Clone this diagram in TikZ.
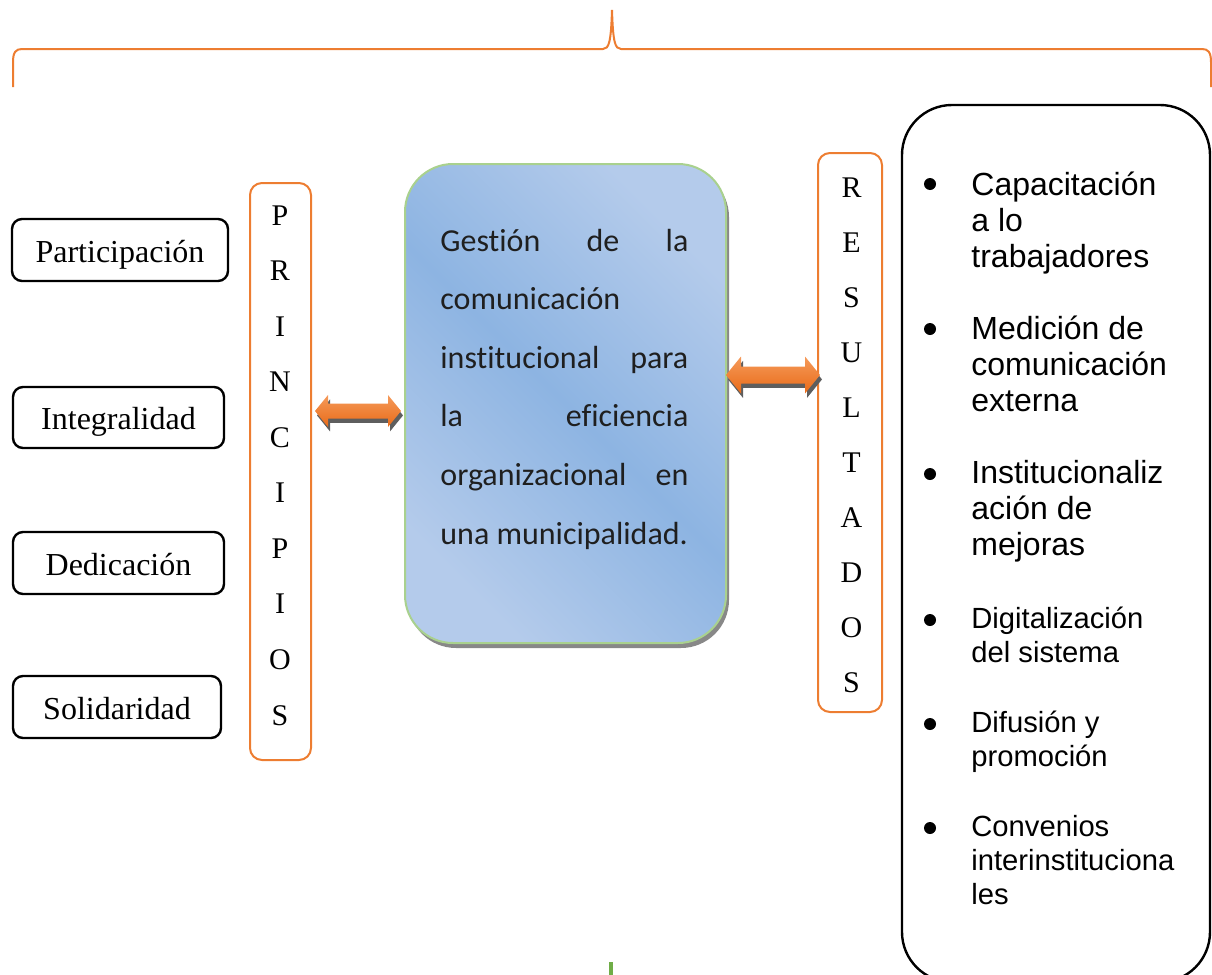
\documentclass[tikz,border=0pt]{standalone}
\usepackage{fontspec}
\setmainfont{Liberation Serif}
\newfontfamily\listfont{Liberation Sans}
\newfontfamily\panelfont[Ligatures=NoCommon]{Carlito}
\usetikzlibrary{calc,shadows}

\definecolor{braceorange}{HTML}{ED7D31}
\definecolor{panelgreen}{HTML}{A9D18E}
\definecolor{paneldark}{HTML}{8DB4E2}
\definecolor{panellight}{HTML}{B4CBEB}
\definecolor{arrowtop}{HTML}{F59A5A}
\definecolor{arrowbottom}{HTML}{E96B18}
\definecolor{arrowshadow}{HTML}{5E5E5E}
\definecolor{tickgreen}{HTML}{70AD47}

% diagonal bands of the central panel
\pgfdeclarehorizontalshading{panelshade}{100bp}{%
  color(0bp)=(panellight); color(25bp)=(panellight); color(50bp)=(paneldark);
  color(75bp)=(panellight); color(100bp)=(panellight)}

% double block arrow between two points: style, from, to,
% head length, head half-height, shaft half-height, x offset, y offset
\newcommand\blockarrow[8]{%
  \path[#1] let \p1=($(#2)+(#7,#8)$), \p2=($(#3)+(#7,#8)$) in
    (\x1,\y1) -- (\x1+#4,\y1+#5) -- (\x1+#4,\y1+#6) -- (\x2-#4,\y2+#6)
    -- (\x2-#4,\y2+#5) -- (\x2,\y2) -- (\x2-#4,\y2-#5) -- (\x2-#4,\y2-#6)
    -- (\x1+#4,\y1-#6) -- (\x1+#4,\y1-#5) -- cycle;}

\begin{document}
\begin{tikzpicture}[x=0.5pt,y=-0.5pt,
  every node/.style={inner sep=0pt},
  valuebox/.style={draw=black, line width=1.2pt, rounded corners=5pt,
    text height=13pt, text depth=1pt, font=\fontsize{16}{19}\selectfont},
  column/.style={draw=braceorange, line width=1pt, rounded corners=6pt},
  panel/.style={draw=panelgreen, line width=1pt, rounded corners=24pt,
    shade, shading=panelshade, shading angle=45,
    drop shadow={shadow xshift=1.5pt, shadow yshift=-2.5pt, fill=black!55, opacity=0.85}},
  bodyarrow/.style={top color=arrowtop, bottom color=arrowbottom},
  shadowarrow/.style={fill=arrowshadow},
  bigitem/.style={anchor=base west, font=\listfont\fontsize{16}{18}\selectfont},
  smallitem/.style={anchor=base west, font=\listfont\fontsize{14.6}{17}\selectfont},
  brace/.style={draw=braceorange, line width=1pt}]

\useasboundingbox (0,0) rectangle (1212,975);

% top brace
\draw[brace] (13,87) -- (13,62) .. controls (13,52) and (16,49) .. (22,49)
  -- (603,49) .. controls (609,49) and (611,42) .. (612,10)
  .. controls (613,42) and (615,49) .. (621,49)
  -- (1202,49) .. controls (1208,49) and (1211,52) .. (1211,62) -- (1211,87);

% principles
\node[valuebox, minimum width=108pt, minimum height=31pt] (part) at (120,250) {Participación};
\node[valuebox, minimum width=105.5pt, minimum height=30.5pt] (integ) at (118.5,417.5) {Integralidad};
\node[valuebox, minimum width=105.5pt, minimum height=31pt] (dedic) at (118.5,563) {Dedicación};
\node[valuebox, minimum width=104pt, minimum height=31pt] (solid) at (117,707) {Solidaridad};

% vertical word columns
\node[column, minimum width=30.5pt, minimum height=288.5pt] (prin) at (280.5,471.5) {};
\node[anchor=base, font=\fontsize{15}{27.78}\selectfont] (prinword) at (280,225)
  {\parbox[t]{20pt}{\centering P\\R\\I\\N\\C\\I\\P\\I\\O\\S}};
\node[column, minimum width=32pt, minimum height=279.5pt] (res) at (850,432.5) {};
\node[anchor=base, font=\fontsize{15}{27.55}\selectfont] (resword) at (851.5,197)
  {\parbox[t]{20pt}{\centering R\\E\\S\\U\\L\\T\\A\\D\\O\\S}};

% central panel
\node[panel, minimum width=160.5pt, minimum height=239.5pt] (core) at (565.5,403.5) {};
\node[anchor=base west, text=black!88, font=\panelfont\fontsize{16}{29.3}\selectfont] (coretext) at (440,251)
  {\parbox[t]{124pt}{%
    \hbox to\linewidth{Gestión\hfill de\hfill la}%
    \hbox to\linewidth{comunicación\hfill}%
    \hbox to\linewidth{institucional\hfill para}%
    \hbox to\linewidth{la\hfill eficiencia}%
    \hbox to\linewidth{organizacional\hfill en}%
    \hbox to\linewidth{una municipalidad.\hfill}}};

% double arrows
\coordinate (la1) at ($(prin.east |- 0,411)+(3,0)$);
\coordinate (la2) at ($(core.west |- 0,411)+(-3,0)$);
\coordinate (ra1) at ($(core.east |- 0,375)+(-1,0)$);
\coordinate (ra2) at ($(res.west |- 0,375)+(3,0)$);
\blockarrow{shadowarrow}{la1}{la2}{6.5pt}{8pt}{3.75pt}{1pt}{-2.2pt}
\blockarrow{bodyarrow}{la1}{la2}{6.5pt}{8pt}{3.75pt}{0pt}{0pt}
\blockarrow{shadowarrow}{ra1}{ra2}{7.5pt}{9.25pt}{4.25pt}{1pt}{-2.2pt}
\blockarrow{bodyarrow}{ra1}{ra2}{7.5pt}{9.25pt}{4.25pt}{0pt}{0pt}

% results list
\node[draw=black, line width=1.2pt, rounded corners=25pt,
  minimum width=154pt, minimum height=438.5pt] (listbox) at (1056,543.5) {};
\foreach \by in {184,329,474,620,724,828}
  \fill (930,\by) circle (3pt);
\node[bigitem] (r1) at (971,195) {\parbox[t]{130pt}{Capacitación\\a lo\\trabajadores}};
\node[bigitem] (r2) at (971,339) {\parbox[t]{130pt}{Medición de\\comunicación\\externa}};
\node[bigitem] (r3) at (971,483) {\parbox[t]{130pt}{Institucionaliz\\ación de\\mejoras}};
\node[smallitem] (r4) at (971,628) {\parbox[t]{130pt}{Digitalización\\del sistema}};
\node[smallitem] (r5) at (971,732) {\parbox[t]{130pt}{Difusión y\\promoción}};
\node[smallitem] (r6) at (971,836) {\parbox[t]{130pt}{Convenios\\interinstituciona\\les}};

% small green mark at the bottom
\fill[tickgreen] (609,962) rectangle (613,975);
\end{tikzpicture}
\end{document}
